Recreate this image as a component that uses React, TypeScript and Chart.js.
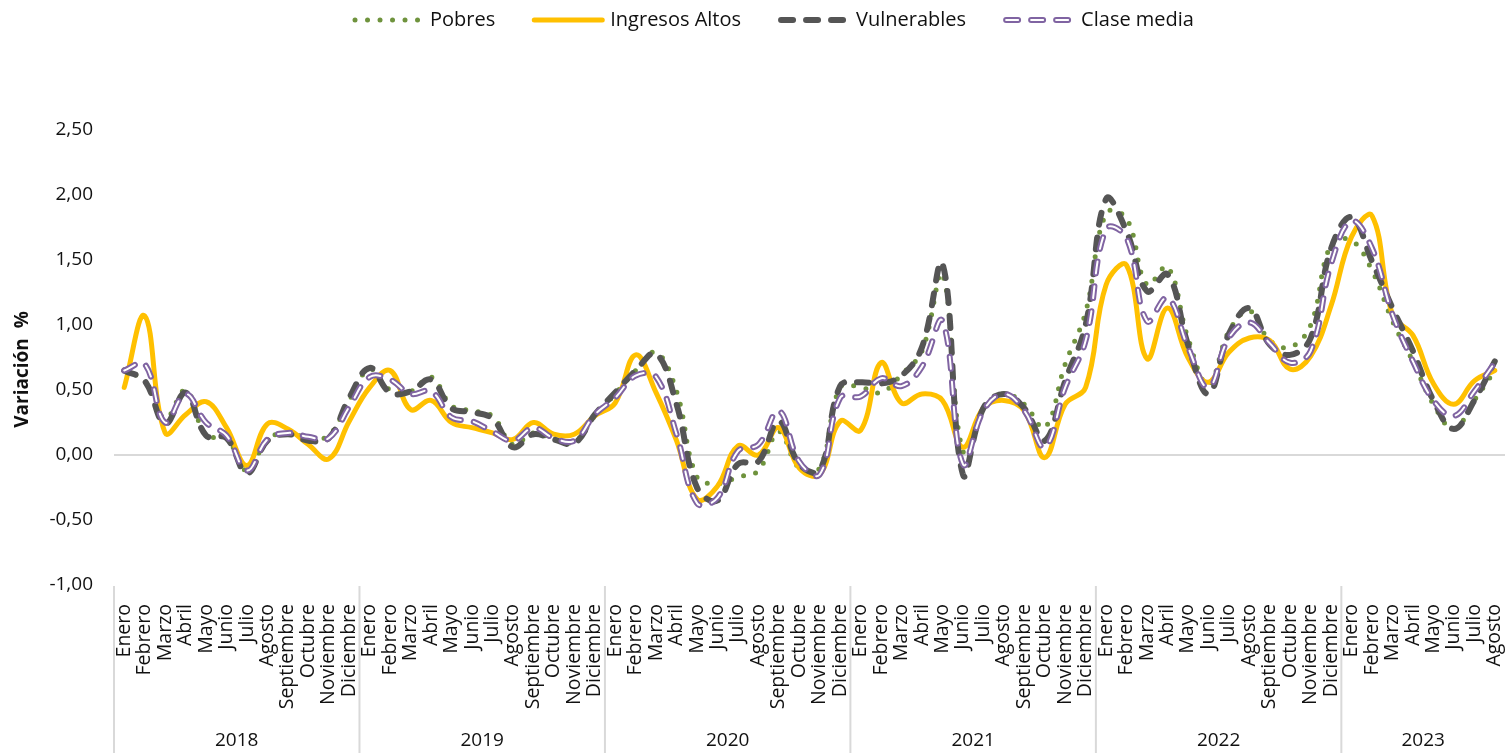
import React, { useEffect, useRef } from "react";
import { Chart, registerables } from "chart.js";

Chart.register(...registerables);

// ---------- DATA ----------
const years = ["2018", "2019", "2020", "2021", "2022", "2023"];
const monthsPerYear = [12, 12, 12, 12, 12, 8];
const monthNames = [
  "Enero", "Febrero", "Marzo", "Abril", "Mayo", "Junio",
  "Julio", "Agosto", "Septiembre", "Octubre", "Noviembre", "Diciembre",
];
const categories: string[] = years.flatMap((_, i) => monthNames.slice(0, monthsPerYear[i]));

const pobres = [
  0.65, 0.57, 0.28, 0.50, 0.15, 0.13, -0.12, 0.12, 0.17, 0.13, 0.15, 0.42,
  0.66, 0.50, 0.49, 0.60, 0.38, 0.34, 0.30, 0.08, 0.17, 0.12, 0.10, 0.30,
  0.47, 0.65, 0.79, 0.49, -0.17, -0.22, -0.17, -0.12, 0.18, -0.10, -0.10, 0.52,
  0.52, 0.48, 0.62, 0.80, 1.39, 0.03, 0.36, 0.47, 0.39, 0.21, 0.70, 1.10,
  1.86, 1.82, 1.31, 1.45, 0.90, 0.54, 0.95, 1.11, 0.88, 0.83, 1.00, 1.62,
  1.65, 1.42, 1.03, 0.72, 0.39, 0.20, 0.42, 0.65,
];
const ingresosAltos = [
  0.52, 1.07, 0.17, 0.31, 0.41, 0.21, -0.08, 0.24, 0.20, 0.08, -0.03, 0.26,
  0.52, 0.65, 0.35, 0.42, 0.25, 0.21, 0.17, 0.12, 0.25, 0.16, 0.16, 0.30,
  0.40, 0.77, 0.48, 0.11, -0.34, -0.24, 0.07, 0.00, 0.21, -0.10, -0.15, 0.26,
  0.19, 0.71, 0.40, 0.47, 0.42, 0.06, 0.36, 0.42, 0.34, -0.02, 0.39, 0.52,
  1.31, 1.46, 0.74, 1.13, 0.75, 0.56, 0.79, 0.90, 0.88, 0.66, 0.76, 1.15,
  1.68, 1.84, 1.08, 0.92, 0.55, 0.39, 0.57, 0.65,
];
const vulnerables = [
  0.65, 0.57, 0.24, 0.48, 0.15, 0.13, -0.14, 0.11, 0.16, 0.11, 0.13, 0.44,
  0.67, 0.48, 0.49, 0.58, 0.36, 0.33, 0.28, 0.06, 0.16, 0.12, 0.09, 0.31,
  0.48, 0.65, 0.78, 0.39, -0.25, -0.35, -0.07, -0.05, 0.26, -0.07, -0.12, 0.53,
  0.56, 0.55, 0.61, 0.83, 1.47, -0.15, 0.36, 0.47, 0.36, 0.11, 0.57, 1.00,
  1.97, 1.72, 1.26, 1.39, 0.85, 0.47, 0.93, 1.13, 0.85, 0.77, 0.90, 1.59,
  1.83, 1.49, 1.13, 0.80, 0.42, 0.20, 0.42, 0.72,
];
const claseMedia = [
  0.65, 0.70, 0.25, 0.47, 0.25, 0.15, -0.12, 0.12, 0.17, 0.14, 0.13, 0.37,
  0.60, 0.58, 0.47, 0.49, 0.29, 0.26, 0.18, 0.11, 0.21, 0.13, 0.11, 0.31,
  0.44, 0.61, 0.60, 0.16, -0.37, -0.33, 0.03, 0.08, 0.34, -0.05, -0.15, 0.44,
  0.45, 0.59, 0.53, 0.68, 1.03, -0.07, 0.34, 0.47, 0.34, 0.06, 0.52, 0.88,
  1.74, 1.67, 1.03, 1.21, 0.83, 0.52, 0.90, 1.02, 0.86, 0.71, 0.80, 1.47,
  1.80, 1.59, 1.08, 0.72, 0.42, 0.30, 0.49, 0.71,
];

const yMin = -1;
const yMax = 2.5;
const yStep = 0.5;
const yTitle = "Variación  %";
const seriesNames = ["Pobres", "Ingresos Altos", "Vulnerables", "Clase media"];

// ---------- STYLE ----------
const FONT = "'Open Sans', 'Noto Sans', sans-serif";
const GREEN = "#6F933D";
const YELLOW = "#FFC000";
const DARK = "#555555";
const PURPLE = "#8064A2";
const TEXT = "#111111";
const GRID = "#D9D9D9";

type Marker = (ctx: CanvasRenderingContext2D, x: number, y: number, w: number) => void;

const markers: Marker[] = [
  (ctx, x, y, w) => {
    ctx.strokeStyle = GREEN; ctx.lineWidth = 5; ctx.lineCap = "round";
    ctx.setLineDash([0, 12.5]);
    ctx.beginPath(); ctx.moveTo(x + 3, y); ctx.lineTo(x + w - 3, y); ctx.stroke();
  },
  (ctx, x, y, w) => {
    ctx.strokeStyle = YELLOW; ctx.lineWidth = 5; ctx.lineCap = "round";
    ctx.setLineDash([]);
    ctx.beginPath(); ctx.moveTo(x + 2, y); ctx.lineTo(x + w - 2, y); ctx.stroke();
  },
  (ctx, x, y, w) => {
    ctx.strokeStyle = DARK; ctx.lineWidth = 6; ctx.lineCap = "round";
    ctx.setLineDash([12, 13]);
    ctx.beginPath(); ctx.moveTo(x + 3, y); ctx.lineTo(x + w - 3, y); ctx.stroke();
  },
  (ctx, x, y, w) => {
    ctx.lineCap = "round";
    ctx.setLineDash([12, 13]);
    ctx.strokeStyle = PURPLE; ctx.lineWidth = 6;
    ctx.beginPath(); ctx.moveTo(x + 3, y); ctx.lineTo(x + w - 3, y); ctx.stroke();
    ctx.strokeStyle = "#FFFFFF"; ctx.lineWidth = 2;
    ctx.beginPath(); ctx.moveTo(x + 3, y); ctx.lineTo(x + w - 3, y); ctx.stroke();
  },
];

const decorPlugin = {
  id: "decor",
  afterDraw(chart: any) {
    const { ctx, chartArea, scales } = chart;
    const xs = scales.x;
    const half = (xs.getPixelForValue(1) - xs.getPixelForValue(0)) / 2;
    ctx.save();

    // year separators and labels
    ctx.strokeStyle = GRID;
    ctx.lineWidth = 2;
    ctx.fillStyle = TEXT;
    ctx.font = `19px ${FONT}`;
    ctx.textAlign = "center";
    ctx.textBaseline = "middle";
    let idx = 0;
    years.forEach((yr, i) => {
      const start = idx;
      const end = idx + monthsPerYear[i] - 1;
      const left = xs.getPixelForValue(start) - half;
      ctx.beginPath();
      ctx.moveTo(left, chartArea.bottom + 1);
      ctx.lineTo(left, chart.height);
      ctx.stroke();
      const cx = (xs.getPixelForValue(start) + xs.getPixelForValue(end)) / 2;
      ctx.fillText(yr, cx, chart.height - 12);
      idx += monthsPerYear[i];
    });

    // y title
    ctx.save();
    ctx.font = `bold 19px ${FONT}`;
    ctx.translate(23, (chartArea.top + chartArea.bottom) / 2 + 12);
    ctx.rotate(-Math.PI / 2);
    ctx.fillText(yTitle, 0, 0);
    ctx.restore();

    // legend
    ctx.font = `20px ${FONT}`;
    ctx.textAlign = "left";
    const markerW = 72;
    const gapText = 6;
    const gapItem = 37;
    const widths = seriesNames.map((n) => markerW + gapText + ctx.measureText(n).width);
    const total = widths.reduce((a, b) => a + b, 0) + gapItem * (seriesNames.length - 1);
    let lx = 773 - total / 2;
    const ly = 20;
    seriesNames.forEach((n, i) => {
      ctx.save();
      markers[i](ctx, lx, ly, markerW);
      ctx.restore();
      ctx.fillStyle = TEXT;
      ctx.textBaseline = "middle";
      ctx.fillText(n, lx + markerW + gapText, ly);
      lx += widths[i] + gapItem;
    });
    ctx.restore();
  },
};

export default function App() {
  const ref = useRef<HTMLCanvasElement | null>(null);

  useEffect(() => {
    if (!ref.current) return;
    const common = {
      pointRadius: 0,
      pointHoverRadius: 0,
      tension: 0.4,
      fill: false,
      borderJoinStyle: "round" as const,
    };
    const chart = new Chart(ref.current, {
      type: "line",
      data: {
        labels: categories,
        datasets: [
          {
            ...common, label: seriesNames[0], data: pobres, borderColor: GREEN,
            borderWidth: 5, borderDash: [0, 12.5], borderCapStyle: "round", order: 5,
          },
          {
            ...common, label: seriesNames[1], data: ingresosAltos, borderColor: YELLOW,
            borderWidth: 5, borderCapStyle: "round", order: 4,
          },
          {
            ...common, label: seriesNames[2], data: vulnerables, borderColor: DARK,
            borderWidth: 6, borderDash: [12, 13], borderCapStyle: "round", order: 3,
          },
          {
            ...common, label: seriesNames[3], data: claseMedia, borderColor: PURPLE,
            borderWidth: 6, borderDash: [12, 13], borderCapStyle: "round", order: 2,
          },
          {
            ...common, label: seriesNames[3] + " (interior)", data: claseMedia, borderColor: "#FFFFFF",
            borderWidth: 2, borderDash: [12, 13], borderCapStyle: "round", order: 1,
          },
        ],
      },
      options: {
        animation: false,
        responsive: true,
        maintainAspectRatio: false,
        layout: { padding: { top: 130, left: 0, right: 0, bottom: 0 } },
        plugins: { legend: { display: false }, tooltip: { enabled: false } },
        events: [],
        scales: {
          x: {
            type: "category",
            offset: true,
            grid: { display: false, drawTicks: false },
            border: { display: false },
            ticks: {
              autoSkip: false,
              minRotation: 90,
              maxRotation: 90,
              padding: 19,
              color: TEXT,
              font: { family: FONT, size: 19.5 },
            },
            afterFit: (s: any) => {
              s.height = 168;
              s.paddingLeft = 0;
              s.paddingRight = 0;
            },
          },
          y: {
            min: yMin,
            max: yMax,
            grid: {
              drawTicks: false,
              lineWidth: 2,
              color: (c: any) => (c.tick && c.tick.value === 0 ? GRID : "rgba(0,0,0,0)"),
            },
            border: { display: false },
            ticks: {
              stepSize: yStep,
              padding: 21,
              color: TEXT,
              font: { family: FONT, size: 19 },
              callback: (v: any) => Number(v).toFixed(2).replace(".", ","),
            },
            afterFit: (s: any) => {
              s.width = 114;
            },
          },
        },
      },
      plugins: [decorPlugin],
    });
    return () => chart.destroy();
  }, []);

  return (
    <div style={{ position: "fixed", left: 0, top: 0, width: 1505, height: 753, background: "#fff" }}>
      <canvas ref={ref} />
    </div>
  );
}
